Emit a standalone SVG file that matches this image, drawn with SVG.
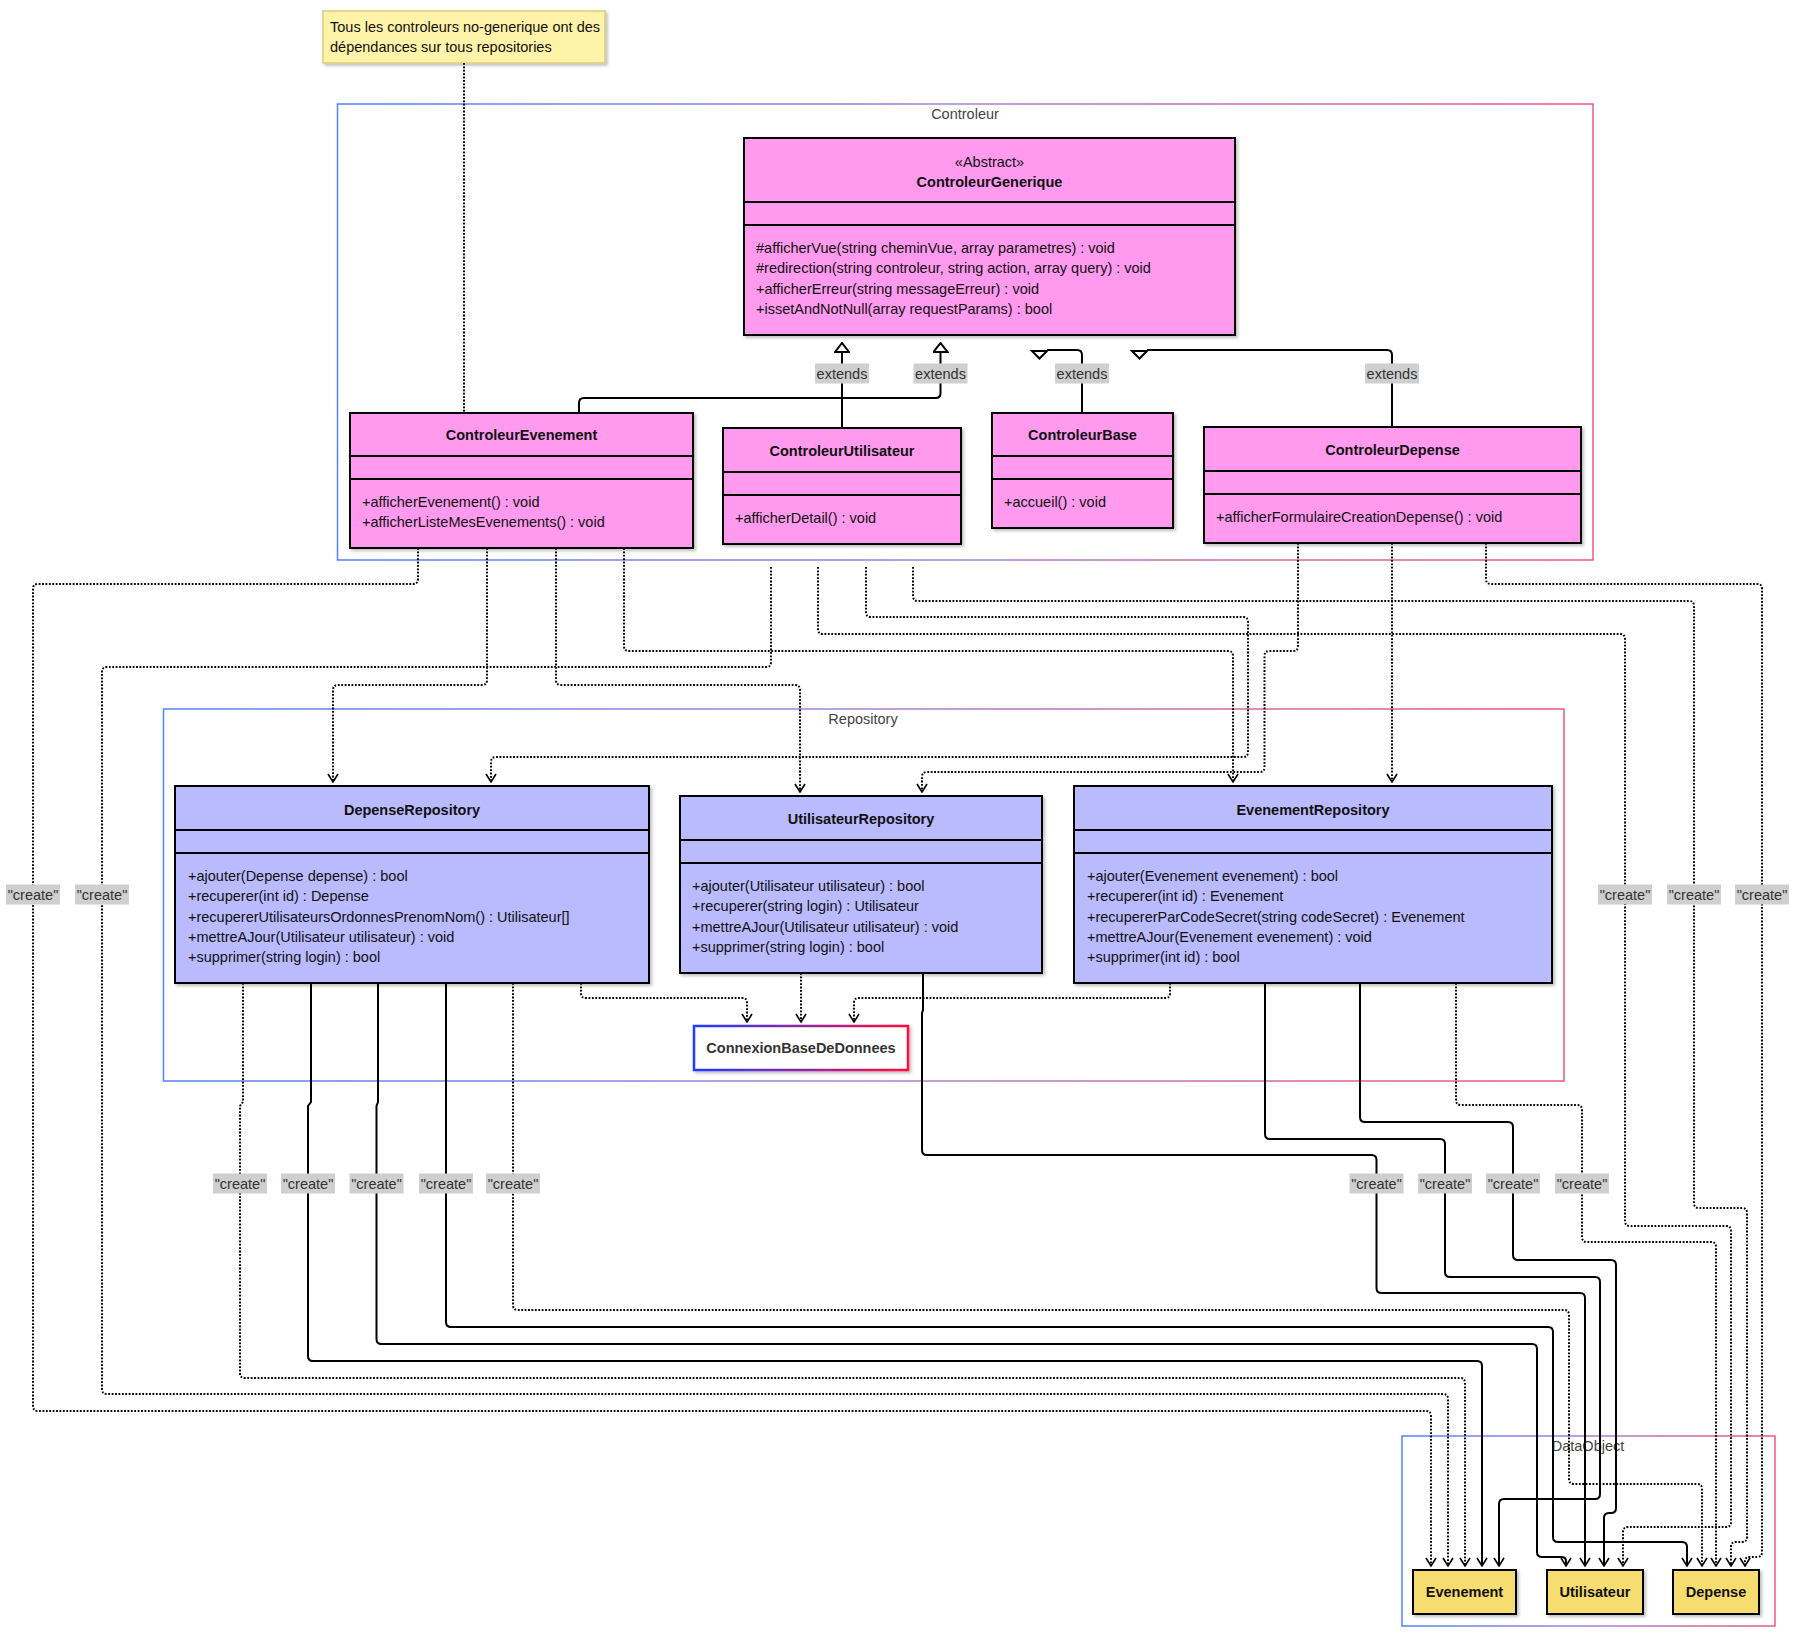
<svg xmlns="http://www.w3.org/2000/svg" width="1800" height="1637" viewBox="0 0 1800 1637">
<defs>
<style>
text{font-family:"Liberation Sans",Arial,Helvetica,sans-serif;font-size:14.5px;fill:#111}
.b{font-weight:bold;text-anchor:middle}
.c{text-anchor:middle}
.ctn{fill:none;stroke:url(#cgrad);stroke-width:1.5}
.clab{fill:#444;text-anchor:middle}
.pink{fill:#ff9aef;stroke:#000;stroke-width:2}
.blue{fill:#babaff;stroke:#000;stroke-width:2}
.yel{fill:#f7dc6f;stroke:#000;stroke-width:2}
.div{stroke:#000;stroke-width:2}
.dep{fill:none;stroke:#000;stroke-width:2;stroke-dasharray:1.8 1.6;marker-end:url(#open)}
.sol{fill:none;stroke:#000;stroke-width:2;marker-end:url(#open)}
.inh{fill:none;stroke:#000;stroke-width:2}
.tri{fill:#fff;stroke:#000;stroke-width:2;stroke-linejoin:miter}
.lb{fill:#cfcfcf}
.lt{fill:#333;text-anchor:middle}
</style>
<linearGradient id="cgrad" x1="0" y1="0" x2="1" y2="0"><stop offset="0" stop-color="#5283f6"/><stop offset="0.5" stop-color="#a883d4"/><stop offset="1" stop-color="#f0567c"/></linearGradient>
<linearGradient id="dbgrad" x1="0" y1="0" x2="1" y2="0"><stop offset="0" stop-color="#1f3cff"/><stop offset="1" stop-color="#ff1040"/></linearGradient>
<filter id="sh" x="-5%" y="-5%" width="115%" height="125%"><feDropShadow dx="2" dy="2" stdDeviation="1.5" flood-color="#000" flood-opacity="0.25"/></filter>
<marker id="open" viewBox="0 0 10 12" refX="9" refY="6" markerWidth="10" markerHeight="12" markerUnits="userSpaceOnUse" orient="auto"><path d="M1,1 L9,6 L1,11" fill="none" stroke="#000" stroke-width="1.6"/></marker>
<marker id="tri" viewBox="0 0 11 16" refX="10" refY="8" markerWidth="11" markerHeight="16" markerUnits="userSpaceOnUse" orient="auto"><path d="M1,1 L10,8 L1,15 Z" fill="#fff" stroke="#000" stroke-width="2"/></marker>
</defs>
<rect width="1800" height="1637" fill="#fff"/>

<!-- containers -->
<g id="container-controleur"><rect class="ctn" x="337.5" y="104" width="1255.5" height="456"/><text class="clab" x="965" y="119">Controleur</text></g>
<g id="container-repository"><rect class="ctn" x="163.5" y="709" width="1400.5" height="372"/><text class="clab" x="863" y="724">Repository</text></g>
<g id="container-dataobject"><rect class="ctn" x="1402" y="1436" width="373" height="190"/><text class="clab" x="1588" y="1451">DataObject</text></g>

<!-- note -->
<g id="note">
<rect x="323" y="11" width="282" height="52" fill="#fff3aa" stroke="#dccb80" stroke-width="1.5" filter="url(#sh)"/>
<text x="330" y="31.5">Tous les controleurs no-generique ont des</text>
<text x="330" y="52">dépendances sur tous repositories</text>
</g>

<!-- connectors -->
<g id="connectors">
<path d="M464,63 L464,413" fill="none" stroke="#000" stroke-width="2" stroke-dasharray="1.8 1.6"/>
<!-- inheritance -->
<path class="inh" marker-end="url(#tri)" d="M842,428 L842,343"/>
<path class="inh" marker-end="url(#tri)" d="M579,413 L579,403 Q579,398 584,398 L935.5,398 Q940.5,398 940.5,393 L940.5,343"/>
<path class="inh" d="M1082,413 L1082,355 Q1082,350 1077,350 L1047,350"/>
<polygon class="tri" points="1032,351 1047,351 1039.5,358.5"/>
<path class="inh" d="M1392,427 L1392,355 Q1392,350 1387,350 L1147,350"/>
<polygon class="tri" points="1132,351 1147,351 1139.5,358.5"/>
<!-- controller dependencies -->
<path class="dep" d="M418,548 L418,579 Q418,584 413,584 L38,584 Q33,584 33,589 L33,1406 Q33,1411 38,1411 L1426,1411 Q1431,1411 1431,1416 L1431,1566"/>
<path class="dep" d="M487,548 L487,680 Q487,685 482,685 L338,685 Q333,685 333,690 L333,782"/>
<path class="dep" d="M556,548 L556,680 Q556,685 561,685 L795,685 Q800,685 800,690 L800,792"/>
<path class="dep" d="M624,548 L624,646 Q624,651 629,651 L1228,651 Q1233,651 1233,656 L1233,782"/>
<path class="dep" d="M771,567 L771,662 Q771,667 766,667 L107,667 Q102,667 102,672 L102,1389 Q102,1394 107,1394 L1443,1394 Q1448,1394 1448,1399 L1448,1566"/>
<path class="dep" d="M818,567 L818,629 Q818,634 823,634 L1620,634 Q1625,634 1625,639 L1625,1221 Q1625,1226 1630,1226 L1726,1226 Q1731,1226 1731,1231 L1731,1522 Q1731,1527 1726,1527 L1628,1527 Q1623,1527 1623,1532 L1623,1566"/>
<path class="dep" d="M866,567 L866,612 Q866,617 871,617 L1243,617 Q1248,617 1248,622 L1248,752 Q1248,757 1243,757 L496,757 Q491,757 491,762 L491,782"/>
<path class="dep" d="M913,567 L913,596 Q913,601 918,601 L1689,601 Q1694,601 1694,606 L1694,1203 Q1694,1208 1699,1208 L1742,1208 Q1747,1208 1747,1213 L1747,1537 Q1747,1542 1742,1542 L1736,1542 Q1731,1542 1731,1547 L1731,1566"/>
<path class="dep" d="M1298,543 L1298,646 Q1298,651 1293,651 L1269.5,651 Q1264.5,651 1264.5,656 L1264.5,767 Q1264.5,772 1259.5,772 L927,772 Q922,772 922,777 L922,792"/>
<path class="dep" d="M1392,543 L1392,782"/>
<path class="dep" d="M1486,543 L1486,579 Q1486,584 1491,584 L1757,584 Q1762,584 1762,589 L1762,1552 Q1762,1557 1757,1557 L1750,1557 Q1745,1557 1745,1561 L1745,1566"/>
<!-- repository creates -->
<path class="dep" d="M243,983 L243,1102 L240,1106 L240,1373 Q240,1378 245,1378 L1460,1378 Q1465,1378 1465,1383 L1465,1566"/>
<path class="sol" d="M311,983 L311,1102 L308,1106 L308,1356 Q308,1361 313,1361 L1477,1361 Q1482,1361 1482,1366 L1482,1566"/>
<path class="sol" d="M378,983 L378,1102 L376.5,1106 L376.5,1339 Q376.5,1344 381.5,1344 L1532,1344 Q1537,1344 1537,1349 L1537,1552 Q1537,1557 1542,1557 L1561,1557 Q1566,1557 1566,1561 L1566,1566"/>
<path class="sol" d="M446,983 L446,1322 Q446,1327 451,1327 L1548,1327 Q1553,1327 1553,1332 L1553,1537 Q1553,1542 1558,1542 L1682,1542 Q1687,1542 1687,1547 L1687,1566"/>
<path class="dep" d="M513,983 L513,1305 Q513,1310 518,1310 L1564,1310 Q1569,1310 1569,1315 L1569,1479 Q1569,1484 1574,1484 L1697,1484 Q1702,1484 1702,1489 L1702,1566"/>
<path class="dep" d="M581,983 L581,993 Q581,998 586,998 L742,998 Q747,998 747,1003 L747,1022"/>
<path class="dep" d="M801,973 L801,1022"/>
<path class="dep" d="M1170,983 L1170,993 Q1170,998 1165,998 L859,998 Q854,998 854,1003 L854,1022"/>
<path class="sol" d="M923,973 L923,1010 L922,1013 L922,1150 Q922,1155 927,1155 L1371.5,1155 Q1376.5,1155 1376.5,1160 L1376.5,1288 Q1376.5,1293 1381.5,1293 L1580,1293 Q1585,1293 1585,1298 L1585,1566"/>
<path class="sol" d="M1265,983 L1265,1134 Q1265,1139 1270,1139 L1440,1139 Q1445,1139 1445,1144 L1445,1272 Q1445,1277 1450,1277 L1595,1277 Q1600,1277 1600,1282 L1600,1494 Q1600,1499 1595,1499 L1504,1499 Q1499,1499 1499,1504 L1499,1566"/>
<path class="sol" d="M1360,983 L1360,1117 Q1360,1122 1365,1122 L1508,1122 Q1513,1122 1513,1127 L1513,1255 Q1513,1260 1518,1260 L1611,1260 Q1616,1260 1616,1265 L1616,1508 Q1616,1513 1611,1513 L1609,1513 Q1604,1513 1604,1518 L1604,1566"/>
<path class="dep" d="M1456,983 L1456,1100 Q1456,1105 1461,1105 L1577,1105 Q1582,1105 1582,1110 L1582,1237 Q1582,1242 1587,1242 L1711,1242 Q1716,1242 1716,1247 L1716,1566"/>
<!-- labels -->
<g id="edge-labels">
<rect class="lb" x="815" y="363.5" width="54" height="20"/><text class="lt" x="842" y="378.5">extends</text>
<rect class="lb" x="913.5" y="363.5" width="54" height="20"/><text class="lt" x="940.5" y="378.5">extends</text>
<rect class="lb" x="1055" y="363.5" width="54" height="20"/><text class="lt" x="1082" y="378.5">extends</text>
<rect class="lb" x="1365" y="363.5" width="54" height="20"/><text class="lt" x="1392" y="378.5">extends</text>
<rect class="lb" x="6" y="884.5" width="54" height="20"/><text class="lt" x="33" y="899.5">"create"</text>
<rect class="lb" x="75" y="884.5" width="54" height="20"/><text class="lt" x="102" y="899.5">"create"</text>
<rect class="lb" x="1598" y="884.5" width="54" height="20"/><text class="lt" x="1625" y="899.5">"create"</text>
<rect class="lb" x="1667" y="884.5" width="54" height="20"/><text class="lt" x="1694" y="899.5">"create"</text>
<rect class="lb" x="1735" y="884.5" width="54" height="20"/><text class="lt" x="1762" y="899.5">"create"</text>
<rect class="lb" x="213" y="1173.5" width="54" height="20"/><text class="lt" x="240" y="1188.5">"create"</text>
<rect class="lb" x="281" y="1173.5" width="54" height="20"/><text class="lt" x="308" y="1188.5">"create"</text>
<rect class="lb" x="349.5" y="1173.5" width="54" height="20"/><text class="lt" x="376.5" y="1188.5">"create"</text>
<rect class="lb" x="419" y="1173.5" width="54" height="20"/><text class="lt" x="446" y="1188.5">"create"</text>
<rect class="lb" x="486" y="1173.5" width="54" height="20"/><text class="lt" x="513" y="1188.5">"create"</text>
<rect class="lb" x="1349.5" y="1173.5" width="54" height="20"/><text class="lt" x="1376.5" y="1188.5">"create"</text>
<rect class="lb" x="1418" y="1173.5" width="54" height="20"/><text class="lt" x="1445" y="1188.5">"create"</text>
<rect class="lb" x="1486" y="1173.5" width="54" height="20"/><text class="lt" x="1513" y="1188.5">"create"</text>
<rect class="lb" x="1555" y="1173.5" width="54" height="20"/><text class="lt" x="1582" y="1188.5">"create"</text>
</g>
</g>

<!-- controller classes -->
<g id="ControleurGenerique">
<rect class="pink" x="744" y="138" width="491" height="197" filter="url(#sh)"/>
<line class="div" x1="744" y1="202" x2="1235" y2="202"/><line class="div" x1="744" y1="225" x2="1235" y2="225"/>
<text class="c" x="989.5" y="167">«Abstract»</text>
<text class="b" x="989.5" y="187">ControleurGenerique</text>
<text x="756" y="253">#afficherVue(string cheminVue, array parametres) : void</text>
<text x="756" y="273.3">#redirection(string controleur, string action, array query) : void</text>
<text x="756" y="293.6">+afficherErreur(string messageErreur) : void</text>
<text x="756" y="313.9">+issetAndNotNull(array requestParams) : bool</text>
</g>
<g id="ControleurEvenement">
<rect class="pink" x="350" y="413" width="343" height="135" filter="url(#sh)"/>
<line class="div" x1="350" y1="456" x2="693" y2="456"/><line class="div" x1="350" y1="479" x2="693" y2="479"/>
<text class="b" x="521.5" y="440">ControleurEvenement</text>
<text x="362" y="507">+afficherEvenement() : void</text>
<text x="362" y="527">+afficherListeMesEvenements() : void</text>
</g>
<g id="ControleurUtilisateur">
<rect class="pink" x="723" y="428" width="238" height="116" filter="url(#sh)"/>
<line class="div" x1="723" y1="472" x2="961" y2="472"/><line class="div" x1="723" y1="495" x2="961" y2="495"/>
<text class="b" x="842" y="456">ControleurUtilisateur</text>
<text x="735" y="523">+afficherDetail() : void</text>
</g>
<g id="ControleurBase">
<rect class="pink" x="992" y="413" width="181" height="115" filter="url(#sh)"/>
<line class="div" x1="992" y1="456" x2="1173" y2="456"/><line class="div" x1="992" y1="479" x2="1173" y2="479"/>
<text class="b" x="1082.5" y="440">ControleurBase</text>
<text x="1004" y="507">+accueil() : void</text>
</g>
<g id="ControleurDepense">
<rect class="pink" x="1204" y="427" width="377" height="116" filter="url(#sh)"/>
<line class="div" x1="1204" y1="471" x2="1581" y2="471"/><line class="div" x1="1204" y1="494" x2="1581" y2="494"/>
<text class="b" x="1392.5" y="455">ControleurDepense</text>
<text x="1216" y="522">+afficherFormulaireCreationDepense() : void</text>
</g>

<!-- repositories -->
<g id="DepenseRepository">
<rect class="blue" x="175" y="786" width="474" height="197" filter="url(#sh)"/>
<line class="div" x1="175" y1="830" x2="649" y2="830"/><line class="div" x1="175" y1="853" x2="649" y2="853"/>
<text class="b" x="412" y="815">DepenseRepository</text>
<text x="188" y="881">+ajouter(Depense depense) : bool</text>
<text x="188" y="901.3">+recuperer(int id) : Depense</text>
<text x="188" y="921.6">+recupererUtilisateursOrdonnesPrenomNom() : Utilisateur[]</text>
<text x="188" y="941.9">+mettreAJour(Utilisateur utilisateur) : void</text>
<text x="188" y="962.2">+supprimer(string login) : bool</text>
</g>
<g id="UtilisateurRepository">
<rect class="blue" x="680" y="796" width="362" height="177" filter="url(#sh)"/>
<line class="div" x1="680" y1="840" x2="1042" y2="840"/><line class="div" x1="680" y1="863" x2="1042" y2="863"/>
<text class="b" x="861" y="824">UtilisateurRepository</text>
<text x="692" y="891">+ajouter(Utilisateur utilisateur) : bool</text>
<text x="692" y="911.3">+recuperer(string login) : Utilisateur</text>
<text x="692" y="931.6">+mettreAJour(Utilisateur utilisateur) : void</text>
<text x="692" y="951.9">+supprimer(string login) : bool</text>
</g>
<g id="EvenementRepository">
<rect class="blue" x="1074" y="786" width="478" height="197" filter="url(#sh)"/>
<line class="div" x1="1074" y1="830" x2="1552" y2="830"/><line class="div" x1="1074" y1="853" x2="1552" y2="853"/>
<text class="b" x="1313" y="815">EvenementRepository</text>
<text x="1087" y="881">+ajouter(Evenement evenement) : bool</text>
<text x="1087" y="901.3">+recuperer(int id) : Evenement</text>
<text x="1087" y="921.6">+recupererParCodeSecret(string codeSecret) : Evenement</text>
<text x="1087" y="941.9">+mettreAJour(Evenement evenement) : void</text>
<text x="1087" y="962.2">+supprimer(int id) : bool</text>
</g>
<g id="ConnexionBaseDeDonnees">
<rect x="694" y="1026" width="214" height="44" fill="#fff" stroke="url(#dbgrad)" stroke-width="2.5" filter="url(#sh)"/>
<text class="b" x="801" y="1053" style="fill:#333">ConnexionBaseDeDonnees</text>
</g>

<!-- data objects -->
<g id="Evenement"><rect class="yel" x="1413" y="1570" width="103" height="44" filter="url(#sh)"/><text class="b" x="1464.5" y="1597">Evenement</text></g>
<g id="Utilisateur"><rect class="yel" x="1547" y="1570" width="96" height="44" filter="url(#sh)"/><text class="b" x="1595" y="1597">Utilisateur</text></g>
<g id="Depense"><rect class="yel" x="1673" y="1570" width="86" height="44" filter="url(#sh)"/><text class="b" x="1716" y="1597">Depense</text></g>
</svg>
